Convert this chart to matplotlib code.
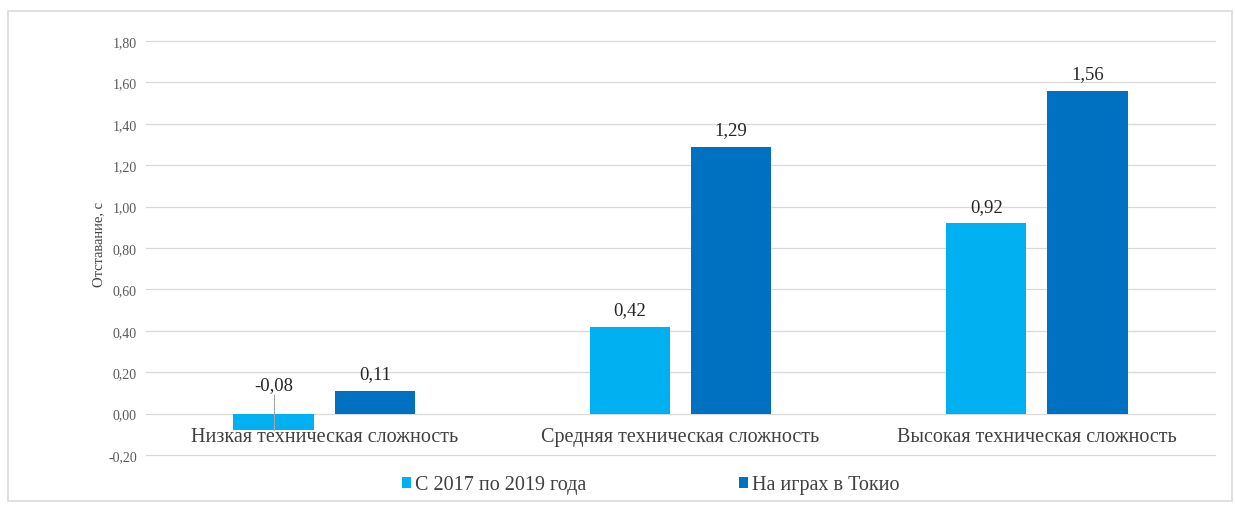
import numpy as np
import matplotlib.pyplot as plt
from matplotlib.patches import Rectangle

plt.rcParams['font.family'] = ['Liberation Serif', 'DejaVu Serif']

categories = ['Низкая техническая сложность', 'Средняя техническая сложность',
              'Высокая техническая сложность']
series_names = ['С 2017 по 2019 года', 'На играх в Токио']
before = [-0.08, 0.42, 0.92]
tokyo = [0.11, 1.29, 1.56]
yticks = [-0.20, 0.00, 0.20, 0.40, 0.60, 0.80, 1.00, 1.20, 1.40, 1.60, 1.80]

W, H = 1235, 510
fig = plt.figure(figsize=(W / 100, H / 100), dpi=100)
ax = fig.add_axes([146 / W, 1 - 456 / H, (1215 - 146) / W, (456 - 42) / H])

# chart frame
fig.patches.append(Rectangle((8 / W, 8 / H), 1224 / W, 490 / H, transform=fig.transFigure,
                             fill=False, edgecolor='#d9d9d9', linewidth=1.2))

x = np.arange(len(categories))
w = 0.225
off = 0.142
b1 = ax.bar(x - off, before, w, color='#00B0F0', label=series_names[0], zorder=3)
b2 = ax.bar(x + off, tokyo, w, color='#0070C0', label=series_names[1], zorder=3)

for bars, vals in [(b1, before), (b2, tokyo)]:
    for r, v in zip(bars, vals):
        cx = r.get_x() + r.get_width() / 2
        ytxt = max(v, 0) + 0.04
        if v < 0:
            # label moved above the axis with a leader line
            ytxt = 0.10
            ax.plot([cx, cx], [v, ytxt - 0.01], color='#a6a6a6', lw=0.8, zorder=4)
        ax.text(cx, ytxt, f'{v:.2f}'.replace('.', ','), ha='center', va='bottom',
                fontsize=13.5, color='#262626', zorder=5)

ax.set_xlim(-0.5, 2.5)
ax.set_ylim(-0.20, 1.80)
ax.set_yticks(yticks)
ax.set_yticklabels([f'{t:.2f}'.replace('.', ',') for t in yticks], fontsize=10, color='#595959')
for t in yticks:
    ax.axhline(t, color='#d9d9d9', linewidth=0.9, zorder=0, clip_on=False)
ax.tick_params(axis='y', length=0, pad=6.5)
ax.tick_params(axis='x', length=0)
ax.set_xticks([])
for s in ax.spines.values():
    s.set_visible(False)

for xi, c in zip(x, categories):
    ax.text(xi, -0.11, c, ha='center', va='center', fontsize=14.5, color='#404040', zorder=5)

ax.set_ylabel('Отставание, с', fontsize=10.5, color='#404040')
ax.yaxis.set_label_coords(-0.038, 0.51)

fig.legend(handles=[b1, b2], labels=series_names, loc='center', bbox_to_anchor=(0.527, 1 - 486 / H),
           ncol=2, frameon=False, fontsize=14.5, handlelength=0.45, handleheight=0.45,
           handletextpad=0.2, columnspacing=7.6, labelcolor='#404040')

fig.savefig('out.png', dpi=100)
